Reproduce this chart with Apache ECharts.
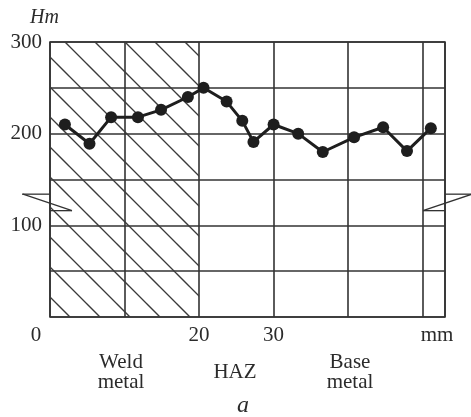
<!DOCTYPE html>
<html>
<head>
<meta charset="utf-8">
<script src="https://cdn.jsdelivr.net/npm/echarts@6/dist/echarts.min.js"></script>
<style>
html,body{margin:0;padding:0;background:#fff;}
#chart{width:471px;height:417px;}
</style>
</head>
<body>
<div id="chart"></div>
<script>
// Distance from weld centre, mm
var distanceMm = [2, 5.3, 8.2, 11.8, 14.9, 18.5, 20.6, 23.7, 25.8, 27.3, 30, 33.3, 36.6, 40.8, 44.7, 47.9, 51.1];
// Microhardness Hm
var hardness = [210, 189, 218, 218, 226, 240, 250, 235, 214, 191, 210, 200, 180, 196, 207, 181, 206];
// Tick labels
var xTickLabels = [20, 30];
var yTickLabels = [100, 200, 300];
// Weld-metal (hatched) zone, mm
var weldZone = [0, 20];
// Axis break marks (value band)
var breakBand = [116, 134];

var serif = '"Liberation Serif", "Times New Roman", serif';
var ink = '#2b2b2b';

// diagonal hatch tile
function makeHatch(size, offset) {
  var cv = document.createElement('canvas');
  cv.width = size; cv.height = size;
  var ctx = cv.getContext('2d');
  ctx.strokeStyle = '#3a3a3a';
  ctx.lineWidth = 1.3;
  for (var d = offset - 2 * size; d <= offset + 2 * size; d += size) {
    ctx.beginPath();
    ctx.moveTo(d - size, -size);
    ctx.lineTo(d + 2 * size, 2 * size);
    ctx.stroke();
  }
  return cv;
}
var hatchTile = makeHatch(30, 23);

var chart = echarts.init(document.getElementById('chart'), null, {renderer: 'canvas'});

var option = {
  backgroundColor: '#fff',
  animation: false,
  grid: {
    left: 50, top: 42, right: 26, bottom: 100,
    show: true, borderColor: '#333', borderWidth: 1.6, backgroundColor: 'transparent'
  },
  xAxis: {
    type: 'value', min: 0, max: 53, interval: 10,
    axisLine: {show: false}, axisTick: {show: false},
    splitLine: {show: true, lineStyle: {color: '#333', width: 1.6}},
    axisLabel: {
      margin: 8, color: ink, fontFamily: serif, fontSize: 21,
      formatter: function (v) { return xTickLabels.indexOf(v) >= 0 ? String(v) : ''; }
    }
  },
  yAxis: {
    type: 'value', min: 0, max: 300, interval: 50,
    axisLine: {show: false}, axisTick: {show: false},
    splitLine: {show: true, lineStyle: {color: '#333', width: 1.6}},
    axisLabel: {
      margin: 8, color: ink, fontFamily: serif, fontSize: 21,
      formatter: function (v) { return yTickLabels.indexOf(v) >= 0 ? String(v) : ''; }
    }
  },
  series: [
    {
      type: 'custom',
      z: 3,
      silent: true,
      clip: false,
      data: [[0, breakBand[0], breakBand[1], -1], [53, breakBand[0], breakBand[1], 1]],
      renderItem: function (params, api) {
        var s = api.value(3);
        var pb = api.coord([api.value(0), api.value(1)]);
        var pt = api.coord([api.value(0), api.value(2)]);
        var x = pb[0], yb = pb[1], yt = pt[1];
        var st = {stroke: '#333', lineWidth: 1.3, fill: null};
        return {type: 'group', children: [
          {type: 'polyline', shape: {points: [[x, yt], [x + s * 28, yt]]}, style: st},
          {type: 'polyline', shape: {points: [[x + s * 27, yt], [x - s * 22, yb]]}, style: st},
          {type: 'polyline', shape: {points: [[x, yb], [x - s * 22, yb]]}, style: st}
        ]};
      }
    },
    {
      type: 'line',
      z: 5,
      data: distanceMm.map(function (d, i) { return [d, hardness[i]]; }),
      symbol: 'circle',
      symbolSize: 12,
      lineStyle: {color: '#1e1e1e', width: 3},
      itemStyle: {color: '#1e1e1e'},
      markArea: {
        silent: true,
        itemStyle: {color: {image: hatchTile, repeat: 'repeat'}, borderWidth: 0},
        data: [[{xAxis: weldZone[0], yAxis: 0}, {xAxis: weldZone[1], yAxis: 300}]]
      }
    }
  ],
  graphic: [
    {type: 'text', left: 30, top: 8, style: {text: 'Hm', font: 'italic 20px ' + serif, fill: ink}},
    {type: 'text', x: 36, y: 335, style: {text: '0', font: '21px ' + serif, fill: ink, align: 'center', verticalAlign: 'middle'}},
    {type: 'text', x: 437, y: 335, style: {text: 'mm', font: '21px ' + serif, fill: ink, align: 'center', verticalAlign: 'middle'}},
    {type: 'text', x: 121, y: 372, style: {text: 'Weld\nmetal', font: '21px ' + serif, lineHeight: 20, fill: ink, align: 'center', verticalAlign: 'middle'}},
    {type: 'text', x: 235, y: 372, style: {text: 'HAZ', font: '21px ' + serif, fill: ink, align: 'center', verticalAlign: 'middle'}},
    {type: 'text', x: 350, y: 372, style: {text: 'Base\nmetal', font: '21px ' + serif, lineHeight: 20, fill: ink, align: 'center', verticalAlign: 'middle'}},
    {type: 'text', x: 243, y: 406, style: {text: 'a', font: 'italic 24px ' + serif, fill: ink, align: 'center', verticalAlign: 'middle'}}
  ]
};
chart.setOption(option);
</script>
</body>
</html>
